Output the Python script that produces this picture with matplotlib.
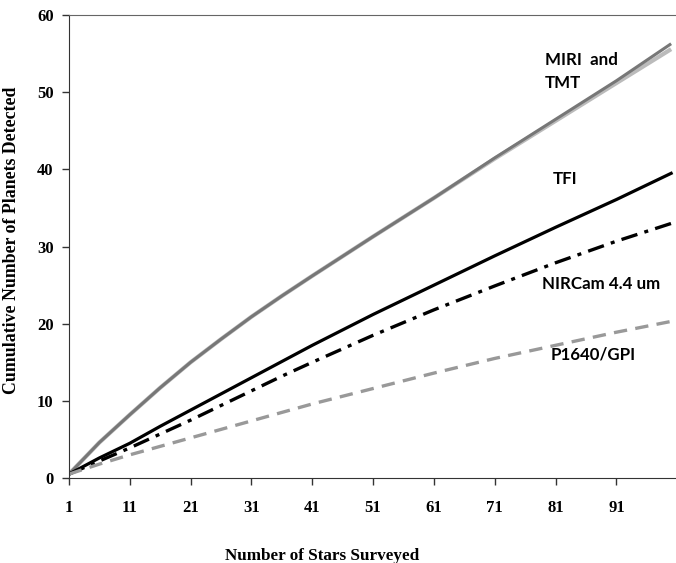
import numpy as np
import matplotlib
matplotlib.use("Agg")
from matplotlib import pyplot as plt

# stars surveyed
stars = [1, 6, 11, 16, 21, 26, 31, 36, 41, 51, 61, 71, 81, 91, 100]
miri = [0.5, 4.6, 8.2, 11.7, 15.0, 18.0, 20.9, 23.6, 26.2, 31.3, 36.3, 41.5, 46.5, 51.5, 56.3]
tmt = [0.5, 4.6, 8.2, 11.7, 15.0, 18.0, 20.9, 23.6, 26.2, 31.3, 36.3, 41.4, 46.3, 51.2, 55.6]
tfi = [0.5, 2.6, 4.5, 6.7, 8.8, 10.9, 13.0, 15.1, 17.2, 21.2, 25.0, 28.8, 32.5, 36.1, 39.5]
nircam = [0.5, 2.2, 3.9, 5.7, 7.5, 9.4, 11.3, 13.2, 15.0, 18.5, 21.8, 24.9, 27.9, 30.7, 33.0]
p1640 = [0.5, 1.8, 3.0, 4.1, 5.2, 6.3, 7.4, 8.5, 9.6, 11.6, 13.6, 15.5, 17.2, 18.9, 20.3]

xticks = [1, 11, 21, 31, 41, 51, 61, 71, 81, 91]
yticks = [0, 10, 20, 30, 40, 50, 60]

serif = "Liberation Serif"
sans = "Lato"

fig = plt.figure(figsize=(6.76, 5.63), dpi=100)
ax = fig.add_axes([0.102, 0.151, 0.898, 0.822])

ax.plot(stars, tmt, color="#bbbbbb", lw=3.0, solid_capstyle="butt")
ax.plot(stars, miri, color="#777777", lw=2.2, solid_capstyle="butt")
ax.plot(stars, tfi, color="black", lw=2.3)
ax.plot(stars, nircam, color="black", lw=2.4, dashes=(5, 2.2, 1.2, 2.2))
ax.plot(stars, p1640, color="#999999", lw=2.4, dashes=(4, 2.5))

ax.set_xlim(1, 100.8)
ax.set_ylim(0, 60)
ax.set_xticks(xticks)
ax.set_yticks(yticks)
ax.set_xticklabels([str(t) for t in xticks])
ax.set_yticklabels([str(t) for t in yticks])
ax.tick_params(axis="both", direction="out", length=5, width=1, colors="#333333",
               labelcolor="black")
ax.tick_params(axis="x", pad=11)
ax.tick_params(axis="y", pad=6)
for lab in ax.get_xticklabels() + ax.get_yticklabels():
    lab.set_fontfamily(serif)
    lab.set_fontweight("bold")
    lab.set_fontsize(12)

ax.spines["right"].set_visible(False)
ax.spines["top"].set_color("#666666")
ax.spines["left"].set_color("#333333")
ax.spines["bottom"].set_color("#333333")

ax.set_ylabel("Cumulative Number of Planets Detected", fontfamily=serif,
              fontweight="bold", fontsize=12.8)
ax.yaxis.set_label_coords(-0.081, 0.514)
ax.set_xlabel("Number of Stars Surveyed", fontfamily=serif,
              fontweight="bold", fontsize=12.3)
ax.xaxis.set_label_coords(0.417, -0.151)

kw = dict(fontfamily=sans, fontweight="bold", fontsize=12.2, ha="left", va="center")
ax.text(79.3, 52.7, "MIRI  and\nTMT", linespacing=1.6, **kw)
ax.text(80.6, 38.7, "TFI", **kw)
ax.text(78.8, 25.2, "NIRCam 4.4 um", **kw)
ax.text(80.2, 16.0, "P1640/GPI", **kw)

fig.savefig("out.png", dpi=100)
